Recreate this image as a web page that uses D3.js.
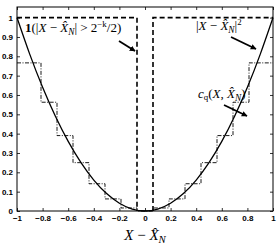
<!DOCTYPE html>
<html>
<head>
<meta charset="utf-8">
<script src="https://cdn.jsdelivr.net/npm/d3@7"></script>
<style>
  body { margin: 0; background: #fff; }
  svg { display: block; }
  .tick text { font-family: "Liberation Sans", Arial, sans-serif; font-weight: bold; font-size: 8px; }
  .math { font-family: "Liberation Serif", "DejaVu Serif", serif; }
</style>
</head>
<body>
<div id="chart"></div>
<script>
// values
const xTicks = [-1, -0.8, -0.6, -0.4, -0.2, 0, 0.2, 0.4, 0.6, 0.8, 1];
const yTicks = [0, 0.1, 0.2, 0.3, 0.4, 0.5, 0.6, 0.7, 0.8, 0.9, 1];

// squared error curve
const curveX = [-1, -0.9, -0.8, -0.7, -0.6, -0.5, -0.4, -0.3, -0.2, -0.1, 0, 0.1, 0.2, 0.3, 0.4, 0.5, 0.6, 0.7, 0.8, 0.9, 1];
const curveY = [1, 0.81, 0.64, 0.49, 0.36, 0.25, 0.16, 0.09, 0.04, 0.01, 0, 0.01, 0.04, 0.09, 0.16, 0.25, 0.36, 0.49, 0.64, 0.81, 1];

// quantized cost (staircase)
const stepEdges = [-1, -0.8125, -0.6875, -0.5625, -0.4375, -0.3125, -0.1875, -0.0625, 0.0625, 0.1875, 0.3125, 0.4375, 0.5625, 0.6875, 0.8125, 1];
const stepLevels = [0.766, 0.5625, 0.39, 0.25, 0.141, 0.0625, 0.0156, 0, 0.0156, 0.0625, 0.141, 0.25, 0.39, 0.5625, 0.766];

// indicator cost
const indicatorLeft = [[-1, 1], [-0.0625, 1], [-0.0625, 0]];
const indicatorRight = [[0.0625, 0], [0.0625, 1], [1, 1]];

const W = 280, H = 246;
const margin = { top: 7, right: 7, bottom: 35, left: 17 };

const svg = d3.select('#chart').append('svg')
  .attr('width', W)
  .attr('height', H);

const x = d3.scaleLinear().domain([-1, 1]).range([margin.left, W - margin.right]);
const y = d3.scaleLinear().domain([0, 1.055]).range([H - margin.bottom, margin.top]);

const defs = svg.append('defs');
defs.append('marker')
  .attr('id', 'head')
  .attr('viewBox', '0 0 10 10')
  .attr('refX', 9).attr('refY', 5)
  .attr('markerWidth', 3.2).attr('markerHeight', 3.2)
  .attr('markerUnits', 'strokeWidth')
  .attr('orient', 'auto')
  .append('path')
  .attr('d', 'M0,0L10,5L0,10z')
  .attr('fill', '#000');

// axes, ticks inward on all four sides
const tickLen = 3;
svg.append('g')
  .attr('transform', `translate(0,${y(0)})`)
  .call(d3.axisBottom(x).tickValues(xTicks).tickSize(-tickLen).tickPadding(4).tickFormat(d => d3.format('')(d)))
  .call(g => g.select('.domain').remove());
svg.append('g')
  .attr('transform', `translate(0,${y(1.055)})`)
  .call(d3.axisTop(x).tickValues(xTicks).tickSize(-tickLen).tickFormat(''))
  .call(g => g.select('.domain').remove());
svg.append('g')
  .attr('transform', `translate(${x(-1)},0)`)
  .call(d3.axisLeft(y).tickValues(yTicks).tickSize(-tickLen).tickPadding(4).tickFormat(d => d3.format('')(d)))
  .call(g => g.select('.domain').remove());
svg.append('g')
  .attr('transform', `translate(${x(1)},0)`)
  .call(d3.axisRight(y).tickValues(yTicks).tickSize(-tickLen).tickFormat(''))
  .call(g => g.select('.domain').remove());

svg.selectAll('.tick line').attr('stroke', '#000').attr('stroke-width', 0.8);
svg.selectAll('.tick text').attr('fill', '#000');

svg.append('rect')
  .attr('x', x(-1)).attr('y', y(1.055))
  .attr('width', x(1) - x(-1)).attr('height', y(0) - y(1.055))
  .attr('fill', 'none').attr('stroke', '#000').attr('stroke-width', 1);

// staircase
const stairPts = [];
stepLevels.forEach((v, i) => {
  stairPts.push([stepEdges[i], v]);
  stairPts.push([stepEdges[i + 1], v]);
});
svg.append('path')
  .datum(stairPts)
  .attr('d', d3.line().x(d => x(d[0])).y(d => y(d[1])))
  .attr('fill', 'none')
  .attr('stroke', '#000')
  .attr('stroke-width', 0.9)
  .attr('stroke-dasharray', '4,1.5,1,1.5');

// squared error
svg.append('path')
  .datum(curveX.map((v, i) => [v, curveY[i]]))
  .attr('d', d3.line().x(d => x(d[0])).y(d => y(d[1])).curve(d3.curveNatural))
  .attr('fill', 'none')
  .attr('stroke', '#000')
  .attr('stroke-width', 1.3);

// indicator
[indicatorLeft, indicatorRight].forEach(pts => {
  svg.append('path')
    .datum(pts)
    .attr('d', d3.line().x(d => x(d[0])).y(d => y(d[1])))
    .attr('fill', 'none')
    .attr('stroke', '#000')
    .attr('stroke-width', 1.6)
    .attr('stroke-dasharray', '5,3');
});

// annotations
function xhat(t) {
  t.append('tspan').attr('font-style', 'italic').text('X\u0302');
  t.append('tspan').attr('font-style', 'italic').attr('font-size', '0.72em').attr('dy', 3).text('N');
}

const tA = svg.append('text').attr('class', 'math').attr('x', 25).attr('y', 32).attr('font-size', 13);
tA.append('tspan').attr('font-weight', 'bold').text('1');
tA.append('tspan').text('(|');
tA.append('tspan').attr('font-style', 'italic').text('X');
tA.append('tspan').text(' \u2212 ');
xhat(tA);
tA.append('tspan').attr('dy', -3).text('| > 2');
tA.append('tspan').attr('font-size', '0.68em').attr('dy', -5).text('\u2212k');
tA.append('tspan').attr('dy', 5).text('/2)');

const tB = svg.append('text').attr('class', 'math').attr('x', 196).attr('y', 30).attr('font-size', 13);
tB.append('tspan').text('|');
tB.append('tspan').attr('font-style', 'italic').text('X');
tB.append('tspan').text(' \u2212 ');
xhat(tB);
tB.append('tspan').attr('dy', -3).text('|');
tB.append('tspan').attr('font-size', '0.68em').attr('dy', -5).text('2');

const tC = svg.append('text').attr('class', 'math').attr('x', 198).attr('y', 98).attr('font-size', 13);
tC.append('tspan').attr('font-style', 'italic').text('c');
tC.append('tspan').attr('font-size', '0.68em').attr('dy', 2).text('q');
tC.append('tspan').attr('dy', -2).text('(');
tC.append('tspan').attr('font-style', 'italic').text('X');
tC.append('tspan').text(', ');
xhat(tC);
tC.append('tspan').attr('dy', -3).text(')');

const arrows = [
  [[119, 41], [135, 51]],
  [[231, 37], [256, 49]],
  [[224, 105], [247, 116]]
];
arrows.forEach(a => {
  svg.append('line')
    .attr('x1', a[0][0]).attr('y1', a[0][1])
    .attr('x2', a[1][0]).attr('y2', a[1][1])
    .attr('stroke', '#000').attr('stroke-width', 1.8)
    .attr('marker-end', 'url(#head)');
});

// x label
const tX = svg.append('text').attr('class', 'math')
  .attr('x', x(0)).attr('y', 240).attr('text-anchor', 'middle').attr('font-size', 15);
tX.append('tspan').attr('font-style', 'italic').text('X');
tX.append('tspan').text(' \u2212 ');
xhat(tX);
</script>
</body>
</html>
